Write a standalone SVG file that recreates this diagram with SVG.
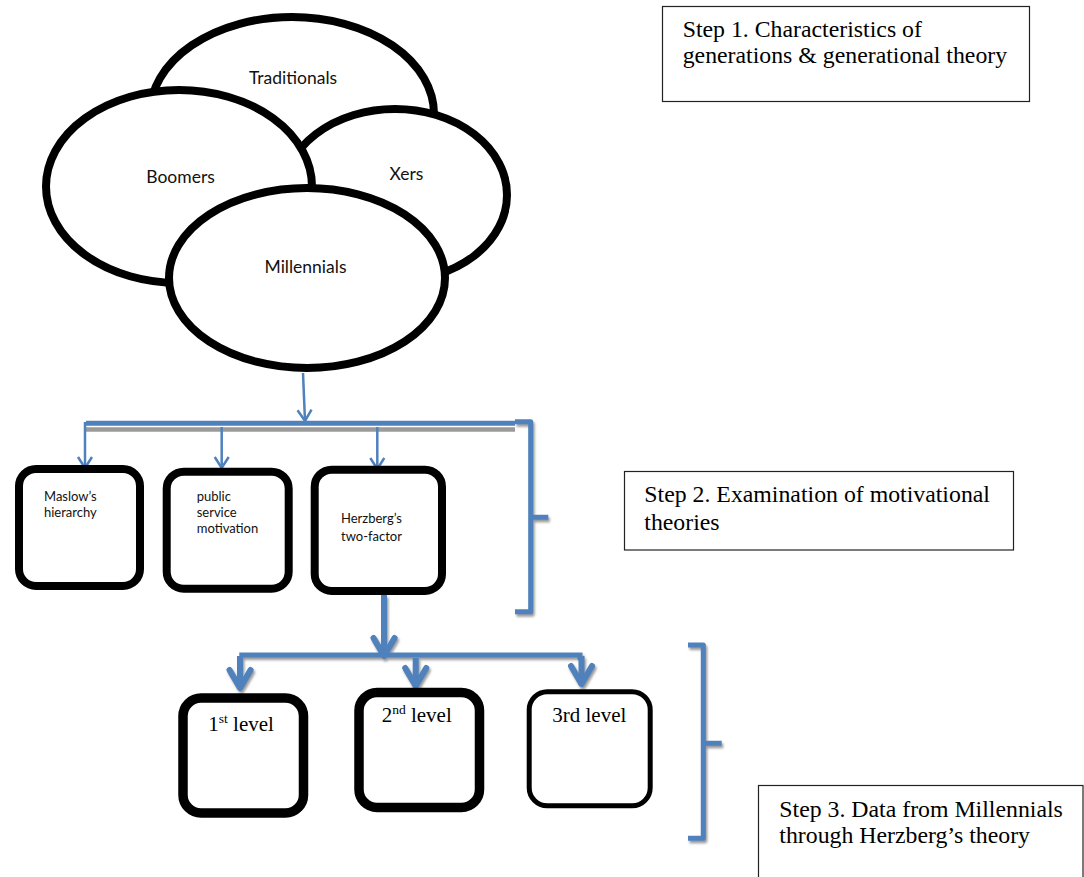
<svg xmlns="http://www.w3.org/2000/svg" width="1084" height="877" viewBox="0 0 1084 877">
  <style>
    .gen { fill: #ffffff; stroke: #000000; stroke-width: 8; }
    .gtxt { font-family: Lato, "Open Sans", sans-serif; font-size: 17.5px; fill: #111; text-anchor: middle; }
    .box { fill: #ffffff; stroke: #000000; stroke-width: 8; }
    .btxt { font-family: Lato, "Open Sans", sans-serif; font-size: 13px; fill: #111; }
    .lvl { font-family: "Liberation Serif", "Times New Roman", serif; font-size: 21px; fill: #000; }
    .step { fill: #ffffff; stroke: #222; stroke-width: 1.2; }
    .stxt { font-family: "Liberation Serif", "Times New Roman", serif; font-size: 23.8px; fill: #000; }
    .thin { fill: none; stroke: #4F81BD; stroke-width: 2.5; }
    .thick { fill: none; stroke: #4F81BD; stroke-width: 6; }
    .bar { fill: none; stroke: #4F81BD; stroke-width: 5; }
    .brk { fill: none; stroke: #4F81BD; stroke-width: 5; stroke-linejoin: round; }
    .shadow { fill: none; stroke: #9a9a9a; }
  </style>
  <defs>
    <marker id="vthin" markerUnits="userSpaceOnUse" markerWidth="20" markerHeight="20" refX="0" refY="0" orient="auto" overflow="visible">
      <polyline points="-11,-7 0,0 -11,7" fill="none" stroke="#4F81BD" stroke-width="2.5" stroke-linejoin="miter"/>
    </marker>
    <marker id="vthick" markerUnits="userSpaceOnUse" markerWidth="40" markerHeight="40" refX="0" refY="0" orient="auto" overflow="visible">
      <polyline points="-19,-10.5 -1,0 -19,10.5" fill="none" stroke="#4F81BD" stroke-width="6" stroke-linejoin="round" stroke-linecap="round"/>
    </marker>
    <filter id="sh" x="-20%" y="-20%" width="140%" height="140%">
      <feDropShadow dx="1.5" dy="2.5" stdDeviation="0.8" flood-color="#808080" flood-opacity="0.8"/>
    </filter>
  </defs>

  <!-- generation ellipses -->
  <g id="traditionals">
    <ellipse class="gen" cx="292" cy="114" rx="142" ry="97"/>
    <text class="gtxt" x="293" y="84">Traditionals</text>
  </g>
  <g id="xers">
    <ellipse class="gen" cx="395" cy="195" rx="112" ry="86"/>
    <text class="gtxt" x="406.5" y="180">Xers</text>
  </g>
  <g id="boomers">
    <ellipse class="gen" cx="179" cy="186.5" rx="133" ry="96.5"/>
    <text class="gtxt" x="180.5" y="182.5">Boomers</text>
  </g>
  <g id="millennials">
    <ellipse class="gen" cx="307" cy="278" rx="138" ry="90"/>
    <text class="gtxt" x="305.5" y="272.5">Millennials</text>
  </g>

  <!-- connectors -->
  <g id="connectors">
    <line class="thin" x1="303" y1="373" x2="305" y2="421" marker-end="url(#vthin)"/>
    <line class="shadow" x1="86" y1="429.5" x2="515" y2="429.5" stroke-width="4.5"/>
    <line class="bar" x1="86" y1="423.3" x2="515" y2="423.3"/>
    <line class="thin" x1="85" y1="422" x2="85" y2="468" marker-end="url(#vthin)"/>
    <line class="thin" x1="221.7" y1="427" x2="221.7" y2="468" marker-end="url(#vthin)"/>
    <line class="thin" x1="377.3" y1="427" x2="377.3" y2="469" marker-end="url(#vthin)"/>
    <g filter="url(#sh)">
      <path class="brk" d="M515,421.7 H530.7 V611.7 H515 M530.7,517.3 H548.3"/>
      <line class="thick" x1="384" y1="595" x2="384" y2="657" marker-end="url(#vthick)"/>
      <path class="bar" d="M239.3,655 H580 V660"/>
      <line class="thick" x1="240" y1="656" x2="240" y2="689" marker-end="url(#vthick)"/>
      <line class="thick" x1="415.7" y1="658" x2="415.7" y2="687" marker-end="url(#vthick)"/>
      <line class="thick" x1="581.5" y1="656" x2="581.5" y2="685" marker-end="url(#vthick)"/>
      <path class="brk" d="M688,645 H703.3 V838.3 H688 M703.3,743.3 H721.7"/>
    </g>
  </g>

  <!-- theory boxes -->
  <g id="maslow">
    <rect class="box" x="19" y="469" width="121" height="117" rx="17"/>
    <text class="btxt" x="44" y="500.7">Maslow’s</text>
    <text class="btxt" x="44" y="516.7">hierarchy</text>
  </g>
  <g id="psm">
    <rect class="box" x="166.7" y="471.7" width="122" height="117" rx="17"/>
    <text class="btxt" x="196.7" y="500.7">public</text>
    <text class="btxt" x="196.7" y="516.7">service</text>
    <text class="btxt" x="196.7" y="533.3">motivation</text>
  </g>
  <g id="herzberg">
    <rect class="box" x="314.7" y="469.7" width="127.3" height="121.3" rx="17"/>
    <text class="btxt" x="341" y="523.3">Herzberg’s</text>
    <text class="btxt" x="341" y="540.7">two-factor</text>
  </g>

  <!-- level boxes -->
  <g id="level1">
    <rect class="box" x="183" y="698" width="120.5" height="115" rx="18" style="stroke-width:9.5"/>
    <text class="lvl" x="208.3" y="730.7">1<tspan font-size="13.5px" dy="-7.5">st</tspan><tspan dy="7.5"> level</tspan></text>
  </g>
  <g id="level2">
    <rect class="box" x="359" y="692.5" width="120.5" height="115" rx="18" style="stroke-width:9.5"/>
    <text class="lvl" x="381.7" y="721.7">2<tspan font-size="13.5px" dy="-7.5">nd</tspan><tspan dy="7.5"> level</tspan></text>
  </g>
  <g id="level3">
    <rect class="box" x="529.2" y="691.8" width="121" height="114" rx="18" style="stroke-width:5"/>
    <text class="lvl" x="552.3" y="721.7">3rd level</text>
  </g>

  <!-- step boxes -->
  <g id="step1">
    <rect class="step" x="662.5" y="6.5" width="367" height="95"/>
    <text class="stxt" x="682.7" y="37.3">Step 1. Characteristics of</text>
    <text class="stxt" x="682.7" y="63.3">generations &amp; generational theory</text>
  </g>
  <g id="step2">
    <rect class="step" x="624.5" y="471.5" width="389" height="78.5"/>
    <text class="stxt" x="644.3" y="501.7">Step 2. Examination of motivational</text>
    <text class="stxt" x="644.3" y="530">theories</text>
  </g>
  <g id="step3">
    <rect class="step" x="758.5" y="785.5" width="324.5" height="110"/>
    <text class="stxt" x="779.3" y="816.7">Step 3. Data from Millennials</text>
    <text class="stxt" x="779.3" y="843.3">through Herzberg’s theory</text>
  </g>
</svg>
